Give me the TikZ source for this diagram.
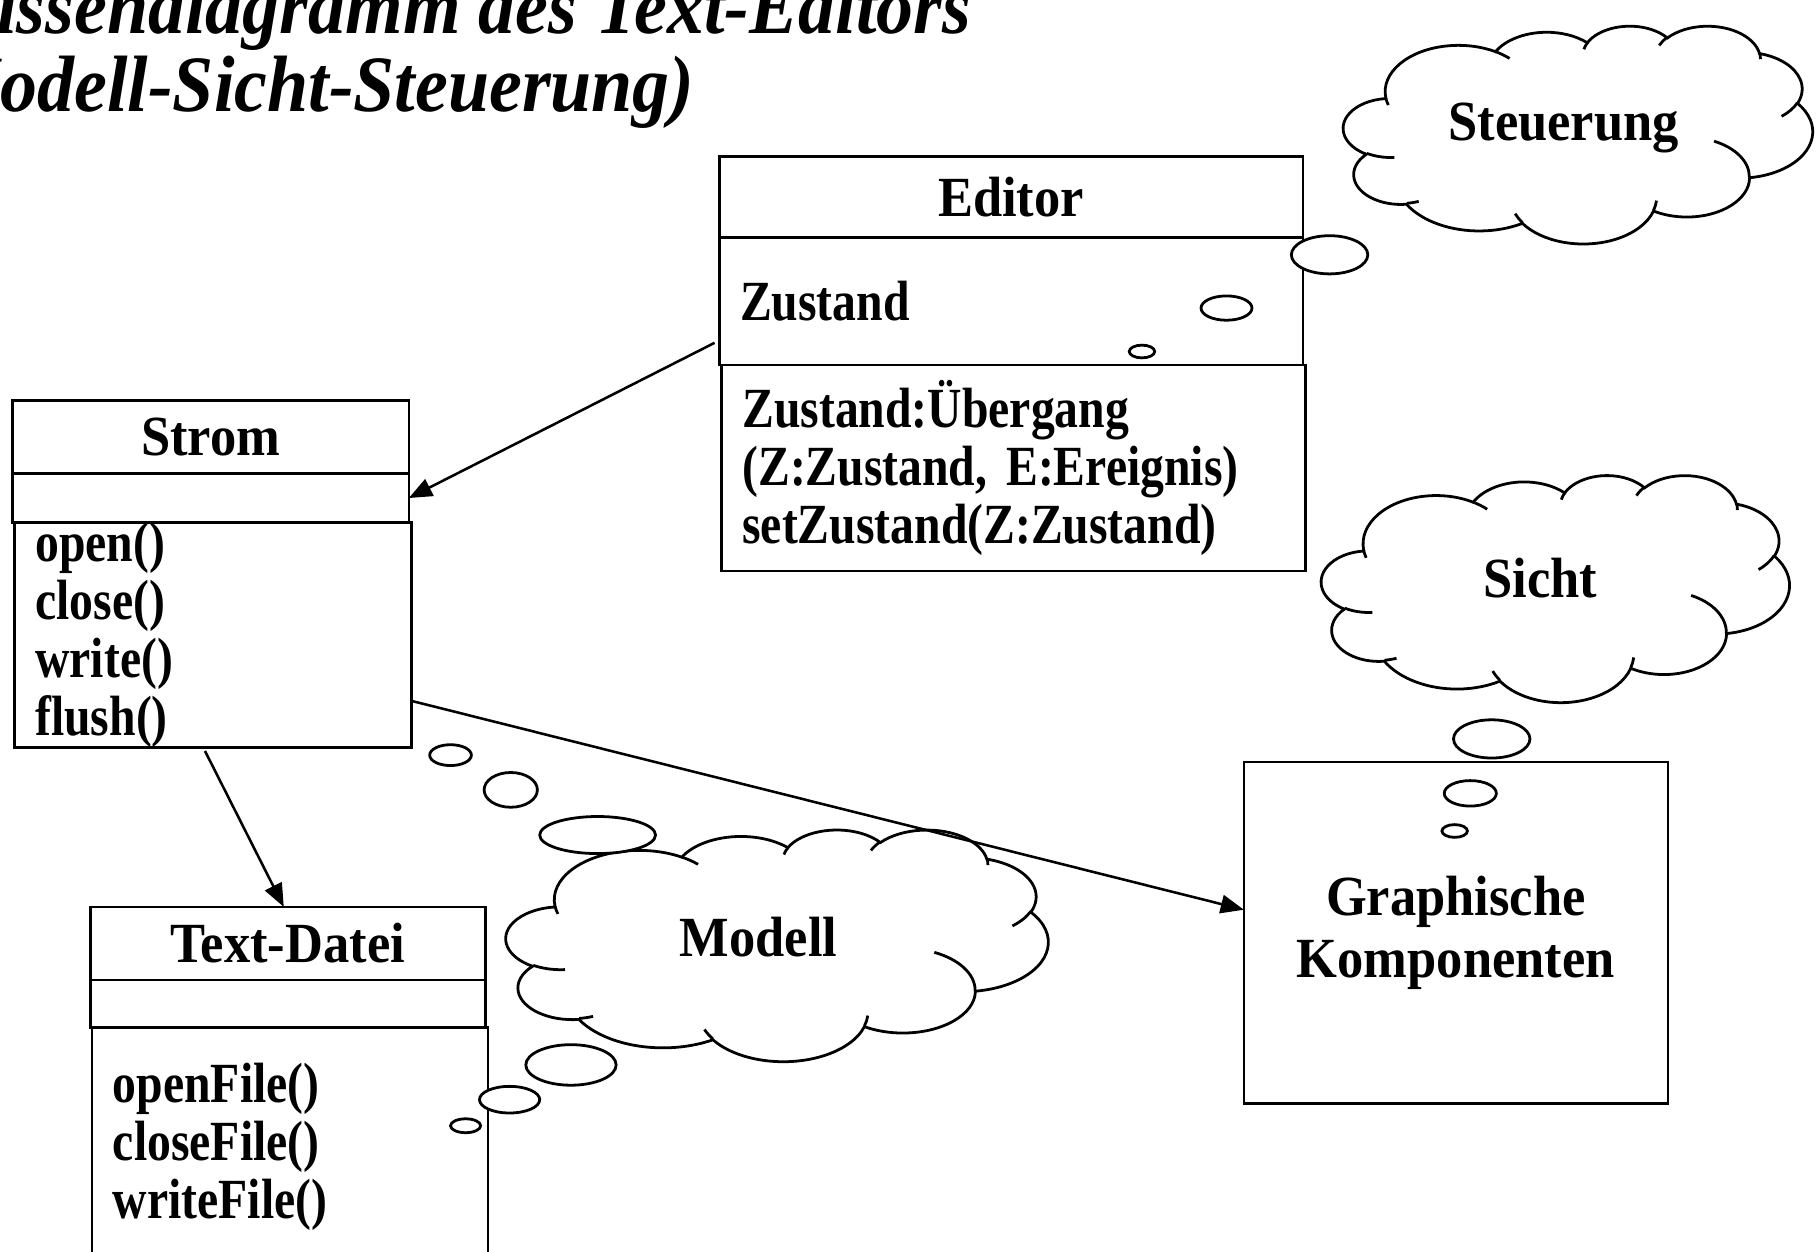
\documentclass[tikz,border=0pt]{standalone}
\usepackage{fontspec}
\setmainfont{Liberation Serif}[FakeStretch=0.925]
\newfontfamily\memberfamily{Liberation Serif}[FakeStretch=0.84]
\usetikzlibrary{arrows.meta, positioning}

\newcommand\boxfont{\fontsize{24.5}{25}\selectfont\bfseries}
\newcommand\memberfont{\memberfamily\fontsize{24.5}{25}\selectfont\bfseries}
\newcommand\titlefont{\fontsize{34.5}{33.5}\selectfont\bfseries\itshape}

% one puff of the cloud: radii, start angle and sweep as drawn in the slide
\newcommand\carc[4]{%
  arc[x radius=#1, y radius=#2,
      start angle={(atan2((#1)*sin(#3),(#2)*cos(#3)))},
      delta angle={(atan2((#1)*sin((#3)+(#4)),(#2)*cos((#3)+(#4)))-atan2((#1)*sin(#3),(#2)*cos(#3))+360*round(((#4)-atan2((#1)*sin((#3)+(#4)),(#2)*cos((#3)+(#4)))+atan2((#1)*sin(#3),(#2)*cos(#3)))/360))}]}

% cloud: left, top, width, height
\newcommand\pptcloud[4]{%
  \pgfmathsetmacro\cloudx{#3/864}%
  \pgfmathsetmacro\cloudy{#4/864}%
  \begin{scope}[shift={(#1,#2)}, x=\cloudx pt, y=-\cloudy pt]
    \draw[cloudline, fill=white] (39,143.7)
      \carc{67.53}{91.90}{-190.4875}{123.7805}
      \carc{53.33}{72.67}{-144.1024}{89.9452}
      \carc{43.65}{59.45}{-145.8079}{99.7230}
      \carc{48.57}{65.95}{-130.9861}{117.2417}
      \carc{53.33}{72.73}{-78.7089}{109.0269}
      \carc{67.75}{92.20}{-46.2673}{130.2690}
      \carc{57.85}{78.67}{0.6250}{114.0333}
      \carc{67.52}{92.15}{22.4516}{115.1726}
      \carc{77.20}{105.43}{66.2426}{75.7110}
      \carc{43.60}{59.18}{-274.9421}{146.7356}
      \carc{43.45}{59.45}{-246.8285}{152.5189}
      -- cycle;
    \draw[cloudline]
      (46.93,261.77) \carc{43.45}{59.45}{86.7420}{26.4295}
      (69.28,348.99) \carc{43.60}{59.18}{73.6105}{11.4475}
      (164.78,390.90) \carc{67.52}{92.15}{137.6242}{14.0811}
      (288.27,347.51) \carc{67.52}{92.15}{6.4533}{15.9984}
      (341.29,229.54) \carc{57.85}{78.67}{-70.2924}{70.9174}
      (417.98,153.54) \carc{53.33}{72.73}{30.3180}{27.7515}
      (383.24,54.26) \carc{48.57}{65.95}{-13.7443}{14.8589}
      (290.78,39.52) \carc{48.57}{65.95}{-149.1815}{18.1954}
      (221.41,47.20) \carc{43.65}{59.45}{-163.4943}{17.6864}
      (140.00,51.92) \carc{67.53}{91.90}{-66.7070}{12.3194}
      (41.27,157.89) \carc{67.53}{91.90}{157.6544}{11.8582};
  \end{scope}}

\begin{document}
\begin{tikzpicture}[
    x=0.5pt, y=-0.5pt,
    box/.style={draw, line width=1.1pt, outer sep=0pt, inner sep=0pt, font=\boxfont},
    part/.style={box, align=left, inner xsep=9pt, inner ysep=0pt, font=\memberfont},
    arrow/.style={-{Triangle[length=10pt, width=8pt]}, line width=1.1pt},
    cloudline/.style={line width=1.2pt},
    bubble/.style={draw, line width=1.2pt, fill=white}
]
\useasboundingbox (0,0) rectangle (1568,1081);
\clip (0,0) rectangle (1568,1081);

% Title
\node (title) [anchor=north west, align=left, inner sep=0pt, font=\titlefont] at (-78,-19)
    {Klassendiagramm des Text-Editors\\(Modell-Sicht-Steuerung)};

% Classes
\node (edtitle) [box, minimum width=252pt, minimum height=35pt] at (873,170) {Editor};
\node (edattr) [part, text width=234pt, minimum height=55pt, below=0pt of edtitle] {Zustand};
\node (edmeth) [part, text width=234pt, minimum height=89pt, below=0pt of edattr, xshift=1pt]
    {Zustand:Übergang\\(Z:Zustand, E:Ereignis)\\setZustand(Z:Zustand)};

\node (strtitle) [box, minimum width=171pt, minimum height=31.5pt] at (182,377.5) {Strom};
\node (strattr) [box, minimum width=171pt, minimum height=21pt, below=0pt of strtitle] {};
\node (strmeth) [part, text width=153.5pt, minimum height=97pt, below=0pt of strattr, xshift=1pt]
    {open()\\close()\\write()\\flush()};

\node (tdtitle) [box, minimum width=170.5pt, minimum height=31.5pt] at (248.5,814.5) {Text-Datei};
\node (tdattr) [box, minimum width=170.5pt, minimum height=20.5pt, below=0pt of tdtitle] {};
\node (tdmeth) [part, text width=153pt, minimum height=103pt, below=0pt of tdattr, xshift=1pt]
    {openFile()\\closeFile()\\writeFile()};

\node (gk) [box, minimum width=183pt, minimum height=147.5pt, align=center] at (1257,805.5)
    {Graphische\\[2pt]Komponenten};

% Clouds
\pptcloud{1160}{22}{405}{188}
\pptcloud{1141}{410}{404}{196}
\pptcloud{437}{716}{468}{200}
\node (steuerung) [font=\boxfont, anchor=base] at (1350,121) {Steuerung};
\node (sicht) [font=\boxfont, anchor=base] at (1330,516) {Sicht};
\node (modell) [font=\boxfont, anchor=base] at (655,826) {Modell};

% Bubbles
\foreach \bx/\by/\brx/\bry in {1148/220/33/16.5, 1059/266/22/10.5, 986/303.5/11/5.5,
    1288/638/33/16.5, 1269.5/685/22.5/11, 1256/717.5/11/5.5,
    389/652/18/9, 441/682/23/15, 516/721/50/16,
    493/919.5/39/17.5, 440/949.5/26/11.5, 402/972/13/6}
  \draw[bubble] (\bx,\by) ellipse[x radius=\brx, y radius=\bry];

% Arrows
\draw[arrow] ([shift={(-4,-19)}]edattr.south west) -- (strattr.east);
\draw[arrow] ([shift={(-7,3)}]strmeth.south) -- ([shift={(-3.5,0)}]tdtitle.north);
\draw[arrow] ([shift={(0,57)}]strmeth.east) -- ([shift={(0,-20)}]gk.west);

\end{tikzpicture}
\end{document}
